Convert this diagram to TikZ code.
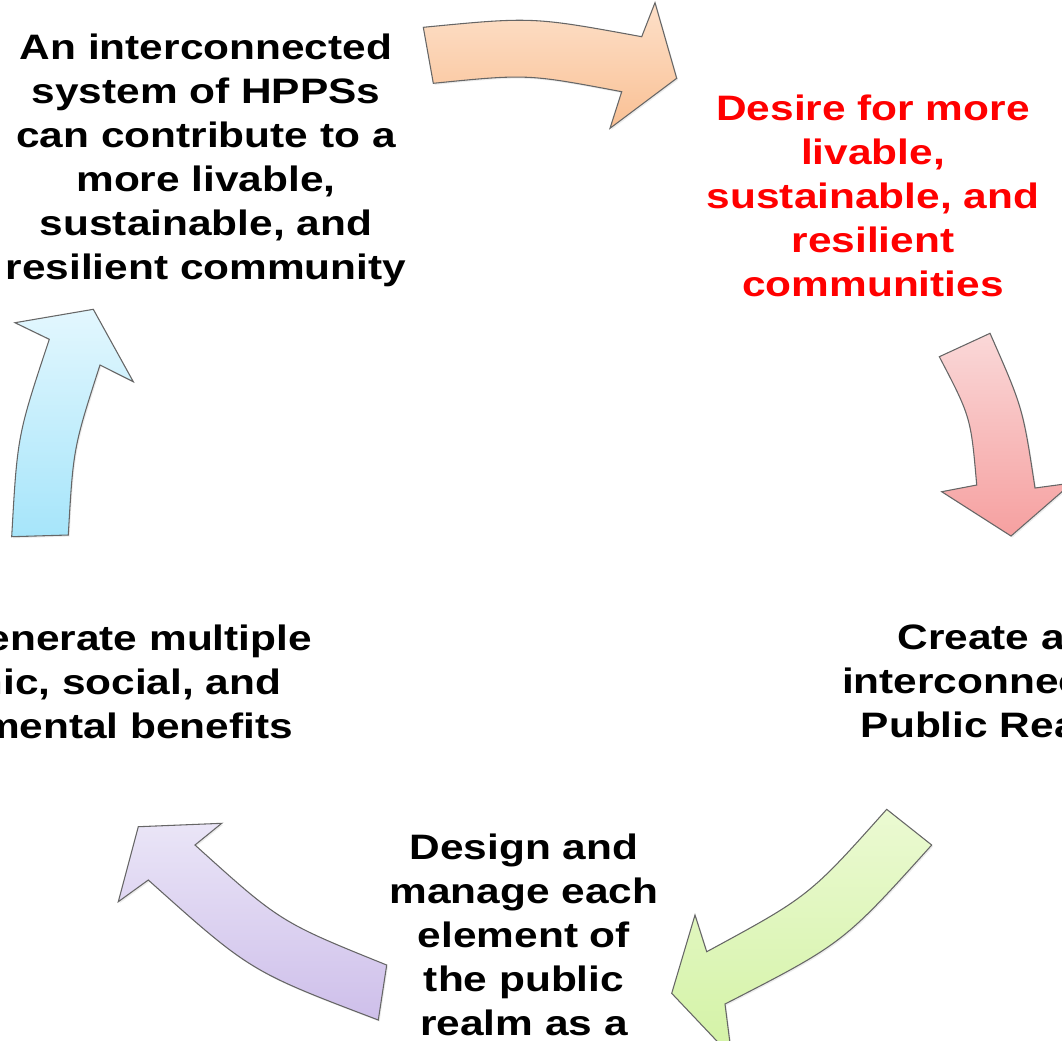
\documentclass[tikz,border=0pt]{standalone}
\usepackage{fontspec}
\setmainfont{Liberation Sans}[FakeStretch=1.2]
\usepackage{tikz}
\usetikzlibrary{shadows}

\definecolor{arrowline}{HTML}{666666}
\definecolor{redtext}{HTML}{FF0000}
\definecolor{peachtop}{HTML}{FDE0C9}
\definecolor{peachbot}{HTML}{F9C094}
\definecolor{pinktop}{HTML}{FAD8D8}
\definecolor{pinkbot}{HTML}{F6A0A0}
\definecolor{limetop}{HTML}{EBFAD2}
\definecolor{limebot}{HTML}{D3F2A5}
\definecolor{lilactop}{HTML}{EAE5F7}
\definecolor{lilacbot}{HTML}{CEBFEA}
\definecolor{skytop}{HTML}{E3F7FE}
\definecolor{skybot}{HTML}{A6E5FA}

\tikzset{
  cycletext/.style={font=\bfseries\fontsize{26.5}{33}\selectfont,
    align=center, inner sep=0pt, anchor=north},
  cyclearrow/.style={draw=arrowline, line width=0.8pt,
    drop shadow={shadow xshift=1pt, shadow yshift=-1.2pt, opacity=0.15}},
}

\begin{document}
\begin{tikzpicture}[x=0.75pt, y=-0.75pt]
  \useasboundingbox (0,0) rectangle (1062,1040);
  \clip (0,0) rectangle (1062,1040);
  \draw[cyclearrow, top color=peachtop, bottom color=peachbot]
    (423.3,27.3) .. controls (532.5,16.7) .. (641.7,36.7) -- (655,2.7)
    -- (676.7,78.3) -- (610,128.3) -- (621.7,91.7)
    .. controls (527.5,73.9) .. (433.3,83.3) -- cycle;
  \draw[cyclearrow, top color=pinktop, bottom color=pinkbot]
    (939.3,356.7) -- (990,333.3) .. controls (1022.8,407.8) .. (1035,488)
    -- (1072,483) -- (1011,536) -- (941.7,491.7) -- (976.7,485)
    .. controls (970.8,417.1) .. (939.3,356.7) -- cycle;
  \draw[cyclearrow, top color=limetop, bottom color=limebot]
    (886.7,809.3) -- (931.7,845) .. controls (843,943.4) .. (725,1004)
    -- (731.7,1056.7) -- (671.7,993.3) -- (695,915) -- (706.7,951.7)
    .. controls (809.1,896.2) .. (886.7,809.3) -- cycle;
  \draw[cyclearrow, top color=lilactop, bottom color=lilacbot]
    (378.3,1020) .. controls (250.2,971.3) .. (148.3,880) -- (118.3,901.7)
    -- (138.3,826.7) -- (221.7,823.3) -- (195,845)
    .. controls (280.2,922) .. (386.7,965) -- cycle;
  \draw[cyclearrow, top color=skytop, bottom color=skybot]
    (11.7,536.7) -- (68.3,535) .. controls (73.3,448) .. (100,365)
    -- (133.3,381.7) -- (93.3,309.3) -- (15,322.7) -- (49.3,339.3)
    .. controls (17.4,435.3) .. (11.7,536.7) -- cycle;

  \node[cycletext] (system) at (206,34)
    {An interconnected\\system of HPPSs\\can contribute to a\\more livable,\\sustainable, and\\resilient community};
  \node[cycletext, text=redtext] (desire) at (873,95)
    {Desire for more\\livable,\\sustainable, and\\resilient\\communities};
  \node[cycletext] (create) at (994,625)
    {Create an\\interconnected\\Public Realm};
  \node[cycletext] (design) at (524,834)
    {Design and\\manage each\\element of\\the public\\realm as a};
  \node[cycletext] (benefits) at (61,625)
    {HPPSs generate multiple\\economic, social, and\\environmental benefits};
\end{tikzpicture}
\end{document}
